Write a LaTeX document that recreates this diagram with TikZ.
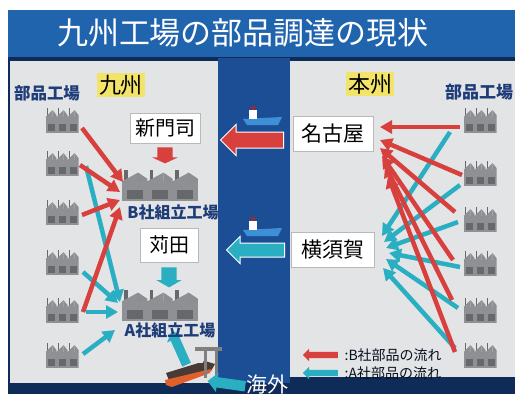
\documentclass[tikz,border=0pt]{standalone}
\usepackage{fontspec}
\setmainfont{Noto Sans CJK JP}
\usetikzlibrary{arrows.meta,positioning,shapes.arrows}

\definecolor{titleblue}{HTML}{2064AE}
\definecolor{seablue}{HTML}{1C4E96}
\definecolor{deepnavy}{HTML}{0F2B58}
\definecolor{panelgray}{HTML}{E3E4E6}
\definecolor{bred}{HTML}{D8403E}
\definecolor{ateal}{HTML}{2AAFC2}
\definecolor{labelnavy}{HTML}{1E3C78}
\definecolor{islandyellow}{HTML}{F2E36A}
\definecolor{plantgray}{HTML}{8E9094}
\definecolor{plantdark}{HTML}{66686C}
\definecolor{hullblue}{HTML}{3D8FD6}
\definecolor{hulldark}{HTML}{4A3A35}
\definecolor{hullorange}{HTML}{E0602C}

% factory icon, drawn inside the node (#1,#2 = x and y stretch, y downwards)
\newcommand{\planticon}[2]{%
  \begin{scope}[shift={(path picture bounding box.center)}]
    \fill[plantgray] (-16.5*#1,-3*#2) rectangle (16.5*#1,12.5*#2);
    \foreach \s in {-16.5,-5.5,5.5}{
      \fill[plantdark] ({(\s+1)*#1},-12*#2) rectangle ({(\s+2.6)*#1},-4*#2);
      \fill[plantgray] ({\s*#1},-3*#2) -- ({(\s+7)*#1},-10*#2) -- ({(\s+7)*#1},-3*#2) -- cycle;
      \fill[plantdark!75] ({(\s+7)*#1},-10*#2) -- ({(\s+11)*#1},-5*#2) -- ({(\s+11)*#1},-3*#2) -- ({(\s+7)*#1},-3*#2) -- cycle;
      \fill[plantdark] ({(\s+2)*#1},4*#2) rectangle ({(\s+9)*#1},11*#2);
    }
  \end{scope}}

\tikzset{
  freighter/.pic={
    \fill[hullblue] (-19,3) -- (20,1) -- (16,9) -- (-15,9) -- cycle;
    \fill[white] (-13,-6) rectangle (-5,3);
    \fill[bred!70!black] (-11,-10) rectangle (-7,-6);
  },
}

\begin{document}
\begin{tikzpicture}[x=1pt, y=-1pt,
  place/.style={draw=gray!55, fill=white, inner sep=0pt, font=\fontsize{20}{20}\selectfont},
  island/.style={fill=islandyellow, inner sep=2pt, font=\fontsize{22}{22}\selectfont},
  heading/.style={text=labelnavy, font=\bfseries\fontsize{16.5}{16.5}\selectfont},
  plant/.style={minimum width=33pt, minimum height=25pt, inner sep=0pt, path picture={\planticon{1}{1}}},
  bigplant/.style={minimum width=76pt, minimum height=31pt, inner sep=0pt, path picture={\planticon{2.3}{1.24}}},
  bflow/.style={bred, line width=4.5pt, -{Triangle[length=12pt,width=13pt]}},
  aflow/.style={ateal, line width=4.5pt, -{Triangle[length=12pt,width=13pt]}},
  blockarrow/.style={single arrow, inner sep=0.5pt},
  keytext/.style={text=black!75!labelnavy, font=\fontsize{14}{14}\selectfont},
]
  \useasboundingbox (0,0) rectangle (515,394);

  % background and panels
  \fill[white] (0,0) rectangle (515,394);
  \fill[deepnavy] (8,10) rectangle (515,394);
  \fill[titleblue] (8,10) rectangle (515,57);
  \fill[seablue] (218,58) rectangle (290,383);
  \fill[panelgray] (10,61) rectangle (218,383);
  \fill[panelgray] (290,61) rectangle (515,377);

  \node[text=white, font=\fontsize{31}{31}\selectfont] (title) at (243,33) {九州工場の部品調達の現状};

  % Kyushu side
  \node[heading] (lhead) at (47,93) {部品工場};
  \node[island] (kyushu) at (121,85) {九州};
  \foreach \i/\y in {1/120,2/163,3/212,4/262,5/310,6/355}
    \node[plant] (lf\i) at (62,\y) {};

  \node[place, minimum width=70pt, minimum height=30pt] (moji) at (165,128) {新門司};
  \node[blockarrow, fill=bred, inner xsep=7.5pt, minimum height=16pt, minimum width=25pt,
        single arrow head extend=5pt, single arrow tip angle=130,
        shape border rotate=270, below=4pt of moji] (mojiin) {};
  \node[bigplant] (bB) at (160,185) {};
  \node[heading, font=\bfseries\fontsize{16}{16}\selectfont] (blabel) at (173,212) {B社組立工場};

  \node[place, minimum width=58pt, minimum height=34pt] (kanda) at (169,245) {苅田};
  \node[blockarrow, fill=ateal, inner xsep=7.5pt, minimum height=20pt, minimum width=25pt,
        single arrow head extend=5pt, single arrow tip angle=120,
        shape border rotate=270, below=5pt of kanda] (kandain) {};
  \node[bigplant] (aA) at (160,305) {};

  % imports by sea
  \node[blockarrow, fill=ateal, inner ysep=4.5pt, minimum height=37pt, minimum width=17pt,
        single arrow head extend=4pt, rotate=114] (portin) at (180,350) {};
  \node[heading, font=\bfseries\fontsize{16}{16}\selectfont] (alabel) at (170,330) {A社組立工場};

  \fill[hulldark] (166,373) -- (205,361) -- (215,364) -- (211,371) -- (171,385) -- cycle;
  \fill[hullorange] (165,380) -- (211,369) -- (210,373) -- (172,387) -- (166,385) -- cycle;
  \fill[white!80!gray] (198,355) rectangle (203,363);
  \fill[gray] (204,349) rectangle (206.5,378);
  \fill[gray] (215,349) rectangle (217.5,378);
  \fill[gray] (195,347) rectangle (222,351);

  \node[blockarrow, fill=ateal, inner ysep=5pt, minimum height=38pt, minimum width=19pt,
        single arrow head extend=4.5pt, rotate=172] (abroadin) at (229,384) {};
  \node[text=white, font=\fontsize{21}{21}\selectfont] (abroad) at (267,385) {海外};

  % flows on the Kyushu side
  \draw[aflow] ([shift={(24,3)}]lf2.center) -- ([shift={(-40,-3)}]aA.center);
  \draw[aflow] ([shift={(21,10)}]lf4.center) -- ([shift={(-42,-2)}]aA.center);
  \draw[aflow] ([shift={(24,2)}]lf5.center) -- ([shift={(-42,7)}]aA.center);
  \draw[aflow] ([shift={(21,-1)}]lf6.center) -- ([shift={(-45,25)}]aA.center);
  \draw[bflow] ([shift={(20,8)}]lf1.center) -- ([shift={(-37,-3)}]bB.center);
  \draw[bflow] ([shift={(18,2)}]lf2.center) -- ([shift={(-40,7)}]bB.center);
  \draw[bflow] ([shift={(20,3)}]lf3.center) -- ([shift={(-40,15)}]bB.center);
  \draw[bflow] ([shift={(21,2)}]lf5.center) -- ([shift={(-40,22)}]bB.center);

  % sea routes from Honshu
  \pic at (262,116) {freighter};
  \node[blockarrow, fill=bred, draw=white, line width=1pt, inner ysep=7.5pt, minimum height=63pt, minimum width=30pt,
        single arrow head extend=7.5pt, shape border rotate=180] (seab) at (256,140) {};
  \pic at (262,227) {freighter};
  \node[blockarrow, fill=ateal, draw=white, line width=1pt, inner ysep=6.5pt, minimum height=58pt, minimum width=26pt,
        single arrow head extend=6.5pt, shape border rotate=180] (seaa) at (259,250) {};

  % Honshu side
  \node[island] (honshu) at (370,84) {本州};
  \node[heading, font=\bfseries\fontsize{17}{17}\selectfont] (rhead) at (479,92) {部品工場};
  \foreach \i/\y in {1/120,2/173,3/219,4/263,5/310,6/355}
    \node[plant] (rf\i) at (480,\y) {};
  \node[place, minimum width=80pt, minimum height=35pt, font=\fontsize{21}{21}\selectfont] (nagoya) at (333,134) {名古屋};
  \node[place, minimum width=83pt, minimum height=35pt, font=\fontsize{21}{21}\selectfont] (yokosuka) at (333,250) {横須賀};

  \draw[aflow] ([shift={(-30,12)}]rf1.center) -- ([shift={(49,-14)}]yokosuka.center);
  \draw[aflow] ([shift={(-20,12)}]rf2.center) -- ([shift={(51,-8)}]yokosuka.center);
  \draw[aflow] ([shift={(-22,3)}]rf3.center) -- ([shift={(53,-2)}]yokosuka.center);
  \draw[aflow] ([shift={(-20,4)}]rf4.center) -- ([shift={(56,3)}]yokosuka.center);
  \draw[aflow] ([shift={(-22,-2)}]rf5.center) -- ([shift={(53,9)}]yokosuka.center);
  \draw[aflow] ([shift={(-25,-7)}]rf6.center) -- ([shift={(50,18)}]yokosuka.center);
  \draw[bflow] ([shift={(-20,7)}]rf1.center) -- ([shift={(47,-7)}]nagoya.center);
  \draw[bflow] ([shift={(-18,2)}]rf2.center) -- ([shift={(47,6)}]nagoya.center);
  \draw[bflow] ([shift={(-25,-7)}]rf3.center) -- ([shift={(47,14)}]nagoya.center);
  \draw[bflow] ([shift={(-27,-3)}]rf4.center) -- ([shift={(49,22)}]nagoya.center);
  \draw[bflow] ([shift={(-28,-10)}]rf5.center) -- ([shift={(52,31)}]nagoya.center);
  \draw[bflow] ([shift={(-25,-3)}]rf6.center) -- ([shift={(55,42)}]nagoya.center);

  % legend
  \node[blockarrow, fill=bred, inner ysep=3pt, minimum height=35pt, minimum width=12pt,
        single arrow head extend=3pt, shape border rotate=180] (keyb) at (322,355) {};
  \node[keytext, right=3pt of keyb] (keybtxt) {:B社部品の流れ};
  \node[blockarrow, fill=ateal, inner ysep=3pt, minimum height=35pt, minimum width=12pt,
        single arrow head extend=3pt, shape border rotate=180] (keya) at (322,373) {};
  \node[keytext, right=3pt of keya] (keyatxt) {:A社部品の流れ};
\end{tikzpicture}
\end{document}
